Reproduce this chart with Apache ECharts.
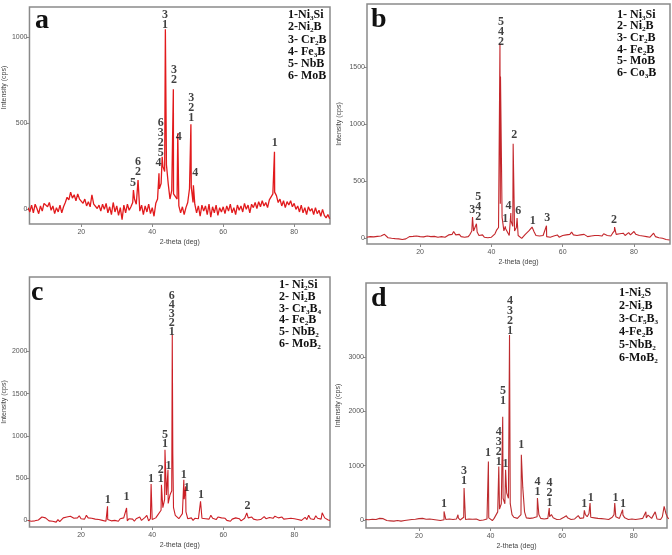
<!DOCTYPE html>
<html><head><meta charset="utf-8">
<script src="https://cdn.jsdelivr.net/npm/echarts@6/dist/echarts.min.js"></script>
<style>html,body{margin:0;padding:0;background:#fff}#c{width:672px;height:555px}</style>
</head><body><div id="c"></div>
<script>
// 2-theta sampling grid for baseline values
const thetaStart = 5, thetaStep = 0.5;
const xTicks = [20, 40, 60, 80];

// ---- Panel a ----
const aBase = [
 10,-15,25,-20,30,5,-25,20,-10,35,
 45,15,40,-5,20,-25,10,-15,25,-20,
 15,40,70,55,100,65,85,50,90,60,
 70,35,60,20,45,15,85,30,40,5,
 25,-10,30,0,35,-20,15,-30,40,-15,
 20,-35,10,-60,25,-20,30,-5,15,40,
 60,30,40,-10,25,-30,20,-15,30,-25,
 10,-40,35,60,120,150,250,220,260,150,
 60,110,90,80,60,20,-20,15,-30,10,
 40,120,130,40,30,-20,20,-40,25,-10,
 20,-30,30,-45,15,-20,25,-35,10,-15,
 15,-25,20,-10,30,-20,10,-30,25,-5,
 20,-15,35,0,25,-20,30,10,40,5,
 45,15,50,20,40,10,55,60,90,100,
 80,40,60,20,50,10,45,25,50,15,
 35,0,20,-15,25,-20,10,-30,15,-10,
 5,-30,10,-25,-5,-40,0,-35,-50,-30,
 -55];
const aPeaks = [[34.7,112],[36.0,170],[41.9,210],[42.8,305],[43.7,1047],[45.95,698],[47.2,442],[50.9,494],[51.6,140],[74.45,335]];
const aLabels = [[34.6,123,'5'],[36.0,190,'6\n2'],[41.8,240,'4'],[42.4,297,'6\n3\n2\n5'],[43.6,1042,'3\n1'],[46.1,722,'3\n2'],[47.5,393,'4'],[51.0,500,'3\n2\n1'],[52.1,182,'4'],[74.5,358,'1']];
const aYTicks = [0, 500, 1000];
const aLegend = ['1-Ni₃Si','2-Ni₂B','3- Cr₂B','4- Fe₃B','5- NbB','6- MoB'];

// ---- Panel b ----
const bBase = [
 5,0,10,-5,8,2,12,5,15,20,
 30,15,0,-10,-5,-15,-8,-20,-10,-5,
 -15,0,-10,5,10,-5,12,0,15,5,
 10,-5,8,0,15,5,10,-5,12,20,
 5,15,10,20,5,15,25,10,30,55,
 25,15,30,10,20,5,15,10,30,60,
 60,60,50,20,10,25,5,15,0,10,
 5,20,35,70,90,300,180,60,80,90,
 20,150,100,60,90,20,5,-5,10,30,
 40,60,70,80,50,20,10,15,5,20,
 15,10,20,5,20,15,10,25,5,15,
 20,10,25,15,30,50,25,15,20,10,
 25,15,30,20,10,25,15,30,20,35,
 20,30,15,35,25,20,30,15,40,60,
 30,20,35,25,40,20,30,45,25,40,
 55,30,45,20,35,15,30,10,25,5,
 20,40,10,25,0,15,-5,10,-15,-10,
 -20];
const bPeaks = [[29.4,55],[34.7,182],[35.8,123],[42.4,1708],[42.55,1420],[43.9,100],[45.45,217],[46.1,827],[47.2,173],[51.4,94],[55.45,106],[62.6,60],[74.55,94]];
const bLabels = [[34.6,202,'3'],[36.3,143,'5\n4\n2'],[42.7,1684,'5\n4\n2'],[43.9,123,'1'],[44.8,232,'4'],[46.4,863,'2'],[47.5,194,'6'],[51.6,106,'1'],[55.7,129,'3'],[74.4,114,'2']];
const bYTicks = [0, 500, 1000, 1500];
const bLegend = ['1- Ni₃Si','2- Ni₂B','3- Cr₂B','4- Fe₂B','5- MoB','6- Co₃B'];

// ---- Panel c ----
const cBase = [
 0,10,-10,5,-5,15,5,20,40,45,
 30,10,-5,5,-10,0,-20,10,-15,5,
 30,15,40,20,50,35,25,45,30,55,
 20,40,15,60,30,45,25,35,15,30,
 10,20,0,15,-10,10,20,-5,10,0,
 15,-10,20,5,30,10,-5,20,0,15,
 -10,20,10,40,0,10,35,60,-5,20,
 10,5,30,60,80,120,150,250,300,200,
 300,350,150,60,40,20,30,80,250,100,
 20,10,30,0,25,40,20,10,25,5,
 20,35,15,60,25,30,10,40,20,30,
 10,25,0,20,-10,15,5,30,10,20,
 -5,15,25,10,30,20,40,15,30,5,
 25,10,30,45,20,10,35,15,25,50,
 75,30,20,40,15,30,20,10,25,15,
 20,40,10,25,0,15,35,10,60,20,
 30,10,55,25,40,15,80,30,20,5,
 0];
const cPeaks = [[27.45,166],[32.8,147],[39.7,430],[42.6,422],[43.6,836],[44.45,600],[45.65,2197],[45.8,800],[48.9,482],[49.4,402],[53.6,225],[66.6,88],[74.9,70],[87.8,90]];
const cLabels = [[27.5,186,'1'],[32.8,225,'1'],[39.7,438,'1'],[42.4,438,'2\n1'],[43.6,852,'5\n1'],[44.6,596,'1'],[45.5,2181,'6\n4\n3\n2\n1'],[48.9,482,'1'],[49.7,331,'1'],[53.7,245,'1'],[66.8,115,'2']];
const cYTicks = [0, 500, 1000, 1500, 2000];
const cLegend = ['1- Ni₂Si','2- Ni₂B','3- Cr₃B₄','4- Fe₂B','5- NbB₂','6- MoB₂'];

// ---- Panel d ----
const dBase = [
 10,20,5,25,15,30,10,20,30,10,
 25,0,-10,-30,-15,-40,-20,-35,-10,-30,
 -20,-45,-10,-30,0,20,10,30,15,40,
 25,50,30,45,15,40,20,35,10,25,
 0,20,-10,15,5,10,-15,20,0,10,
 -10,20,40,0,30,50,10,-10,20,0,
 15,-5,20,10,-10,25,0,30,20,40,
 10,-10,30,60,150,200,300,400,300,500,
 400,300,100,50,20,30,40,100,600,150,
 40,20,30,10,40,20,60,100,30,10,
 20,0,30,60,100,40,20,10,25,15,
 20,50,80,40,30,10,30,20,40,80,
 30,20,40,100,60,120,50,30,40,20,
 30,10,25,40,20,35,10,30,50,100,
 60,40,30,50,90,40,25,10,30,20,
 35,10,40,20,50,30,15,40,90,60,
 30,50,150,20,40,10,60,250,120,40,
 20];
const dPeaks = [[27.0,158],[30.9,97],[32.6,588],[39.4,1077],[42.3,985],[43.4,1900],[44.2,925],[45.3,3406],[48.6,1200],[49.1,620],[53.1,404],[56.4,220],[61.2,80],[64.5,80],[66.2,177],[67.8,312],[74.7,312],[76.9,190],[83.4,150]];
const dLabels = [[27.0,202,'1'],[32.6,630,'3\n1'],[39.3,1151,'1'],[42.3,985,'4\n3\n2\n1'],[43.5,2101,'5\n1'],[44.2,938,'1'],[45.4,3388,'4\n3\n2\n1'],[48.6,1287,'1'],[53.1,434,'4\n1'],[56.5,232,'4\n2\n1'],[66.2,202,'1'],[68.0,324,'1'],[74.9,324,'1'],[77.0,202,'1']];
const dYTicks = [0, 1000, 2000, 3000];
const dLegend = ['1-Ni₂S','2-Ni₂B','3-Cr₅B₃','4-Fe₂B','5-NbB₂','6-MoB₂'];

function build(base, peaks){
  const pts = base.map((v,i)=>[thetaStart + thetaStep*i, v]);
  peaks.forEach(p=>pts.push(p));
  pts.sort((p,q)=>p[0]-q[0]);
  return pts;
}

const panels = [
  {key:'a', base:aBase, peaks:aPeaks, labels:aLabels, yTicks:aYTicks, legend:aLegend,
   grid:{left:28, top:7, width:302, height:217}, x:[5.4,90.1], y:[-85,1176], color:'#e21a1c',
   letterPos:[35,7], legendPos:[288,9,12.2], nameGap:19, namePad:[0,0,0,56], lh:10, lw:1.3},
  {key:'b', base:bBase, peaks:bPeaks, labels:bLabels, yTicks:bYTicks, legend:bLegend,
   grid:{left:367, top:4, width:303, height:240}, x:[5.1,90.1], y:[-55,2058], color:'#c4262b',
   letterPos:[371,6], legendPos:[617,9,11.6], nameGap:24, namePad:0, lh:10, lw:1.1},
  {key:'c', base:cBase, peaks:cPeaks, labels:cLabels, yTicks:cYTicks, legend:cLegend,
   grid:{left:28, top:277, width:302, height:250}, x:[5.5,90], y:[-78,2880], color:'#cc1f26',
   letterPos:[31,279], legendPos:[279,279,11.8], nameGap:19, namePad:0, lh:9, lw:1.1},
  {key:'d', base:dBase, peaks:dPeaks, labels:dLabels, yTicks:dYTicks, legend:dLegend,
   grid:{left:366, top:283, width:301, height:245}, x:[5.2,89.3], y:[-147,4362], color:'#bd2b2e',
   letterPos:[371,285], legendPos:[619,286,13.1], nameGap:24, namePad:0, lh:10, lw:1.1}
];

const axisGray = '#8a8a8a';
const plainNum = v => String(Math.round(v));
const option = {
  animation:false,
  backgroundColor:'#ffffff',
  grid:[], xAxis:[], yAxis:[], series:[], title:[]
};
panels.forEach((p,i)=>{
  option.grid.push(Object.assign({show:true, borderColor:axisGray, borderWidth:1.5, backgroundColor:'transparent'}, p.grid));
  option.xAxis.push({
    type:'value', gridIndex:i, min:p.x[0], max:p.x[1],
    name:'2-theta (deg)', nameLocation:'middle', nameGap:15,
    nameTextStyle:{fontFamily:'Liberation Sans', fontSize:7, color:'#444'},
    axisLine:{show:false, onZero:false},
    axisTick:{show:true, length:3, lineStyle:{color:axisGray}, customValues:xTicks},
    axisLabel:{fontFamily:'Liberation Sans', fontSize:7, color:'#555', margin:5, customValues:xTicks, formatter:plainNum},
    splitLine:{show:false}
  });
  option.yAxis.push({
    type:'value', gridIndex:i, min:p.y[0], max:p.y[1],
    name:'Intensity (cps)', nameLocation:'middle', nameGap:p.nameGap,
    nameTextStyle:{fontFamily:'Liberation Sans', fontSize:7, color:'#444', padding:p.namePad},
    axisLine:{show:false, onZero:false},
    axisTick:{show:true, length:3, lineStyle:{color:axisGray}, customValues:p.yTicks},
    axisLabel:{fontFamily:'Liberation Sans', fontSize:7, color:'#555', margin:2, customValues:p.yTicks, formatter:plainNum},
    splitLine:{show:false}
  });
  option.series.push({
    type:'line', xAxisIndex:i, yAxisIndex:i, data:build(p.base, p.peaks),
    showSymbol:false, symbol:'none', clip:true, sampling:null,
    lineStyle:{color:p.color, width:p.lw}, z:2
  });
  option.series.push({
    type:'scatter', xAxisIndex:i, yAxisIndex:i, symbolSize:0, silent:true,
    data:p.labels.map(l=>({value:[l[0], l[1]], name:l[2]})),
    label:{show:true, position:'top', distance:0, formatter:d=>d.name,
      fontFamily:'Liberation Serif', fontWeight:'bold', fontSize:12, lineHeight:p.lh, color:'#111', align:'center'},
    z:3
  });
  option.title.push({
    text:p.key, left:p.letterPos[0], top:p.letterPos[1], padding:0,
    textStyle:{fontFamily:'Liberation Serif', fontWeight:'bold', fontSize:28, lineHeight:28, color:'#111'}
  });
  option.title.push({
    text:p.legend.join('\n'), left:p.legendPos[0], top:p.legendPos[1], padding:0,
    textStyle:{fontFamily:'Liberation Serif', fontWeight:'bold', fontSize:12, lineHeight:p.legendPos[2], color:'#111'}
  });
});
const chart = echarts.init(document.getElementById('c'), null, {renderer:'canvas'});
chart.setOption(option);
</script>
</body></html>
